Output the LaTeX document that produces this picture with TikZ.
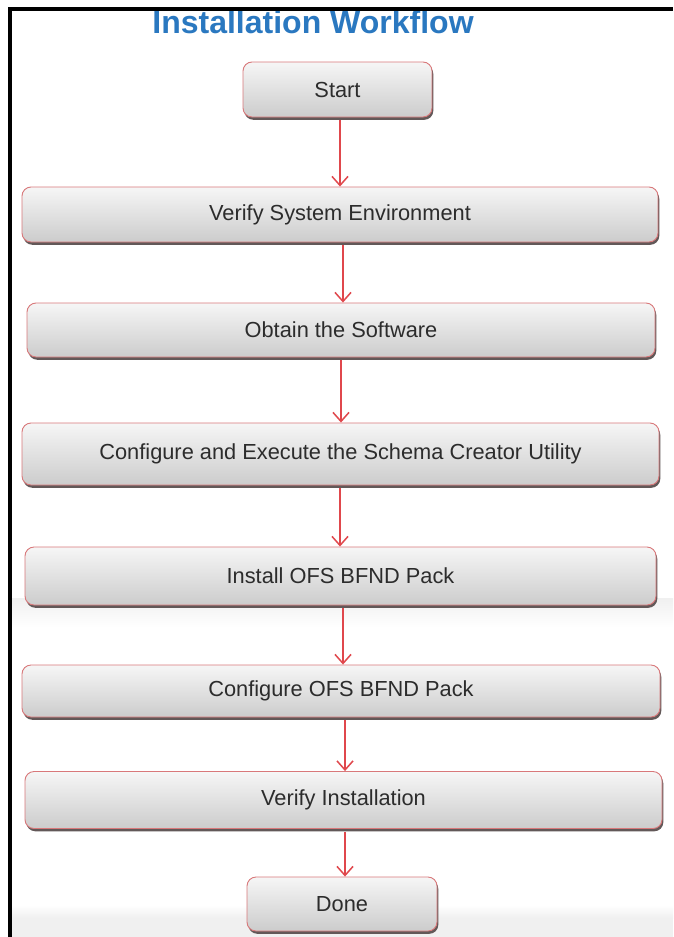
\documentclass[tikz,border=0pt]{standalone}
\usepackage{fontspec}
\setmainfont{Liberation Sans}
\usetikzlibrary{arrows.meta,shadows}
\definecolor{titleblue}{HTML}{2A78C0}
\definecolor{arrred}{HTML}{E0474C}
\definecolor{boxline}{HTML}{D8787A}
\definecolor{boxshadow}{HTML}{625858}
\definecolor{boxtop}{HTML}{F6F6F6}
\definecolor{boxbot}{HTML}{CCCCCC}
\definecolor{txt}{HTML}{2C2C2C}
\begin{document}
\begin{tikzpicture}[x=1pt,y=-1pt,
  flowbox/.style={draw=boxline, line width=0.9pt, rounded corners=9pt,
    top color=boxtop, bottom color=boxbot,
    drop shadow={shadow xshift=1.3pt, shadow yshift=-2.8pt, fill=boxshadow, opacity=1},
    inner sep=0pt, text=txt, font=\fontsize{21.8}{26}\selectfont},
  arr/.style={draw=arrred, line width=1.5pt,
    -{Straight Barb[length=9pt,width=16pt,line width=1.5pt]}},
  frameline/.style={draw=black, line width=3.2pt}]
\useasboundingbox (0,0) rectangle (673,937);
\fill[white] (0,0) rectangle (673,937);
% faint screenshot bands
\shade[top color=gray!12, bottom color=white] (11,598) rectangle (673,627);
\shade[top color=white, bottom color=gray!12] (11,905) rectangle (673,918);
\fill[gray!12] (11,918) rectangle (673,937);
% title
\node[anchor=base, text=titleblue, font=\fontsize{32}{37}\selectfont\bfseries] (title) at (313,33) {Installation Workflow};
% boxes
\node[flowbox, minimum width=189pt, minimum height=55pt] (start) at (337.5,89.5) {Start};
\node[flowbox, minimum width=636pt, minimum height=55pt] (env) at (340,214.5) {Verify System Environment};
\node[flowbox, minimum width=628pt, minimum height=54pt] (soft) at (341,330) {Obtain the Software};
\node[flowbox, minimum width=637pt, minimum height=62pt] (schema) at (340.5,454) {Configure and Execute the Schema Creator Utility};
\node[flowbox, minimum width=631pt, minimum height=58pt] (install) at (340.5,576) {Install OFS BFND Pack};
\node[flowbox, minimum width=638pt, minimum height=52pt] (config) at (341,691) {Configure OFS BFND Pack};
\node[flowbox, minimum width=637pt, minimum height=57pt] (verify) at (343.5,800) {Verify Installation};
\node[flowbox, minimum width=190pt, minimum height=54pt] (done) at (342,904) {Done};
% arrows
\draw[arr] ([xshift=2.5pt,yshift=-3pt]start.south) -- ([xshift=2.5pt]start.south |- env.north);
\draw[arr] ([xshift=3pt,yshift=-3pt]env.south) -- ([xshift=3pt]env.south |- soft.north);
\draw[arr] ([yshift=-3pt]soft.south) -- (soft.south |- schema.north);
\draw[arr] ([xshift=-0.5pt,yshift=-3pt]schema.south) -- ([xshift=-0.5pt]schema.south |- install.north);
\draw[arr] ([xshift=2.5pt,yshift=-3pt]install.south) -- ([xshift=2.5pt]install.south |- config.north);
\draw[arr] ([xshift=4pt,yshift=-3pt]config.south) -- ([xshift=4pt]config.south |- verify.north);
\draw[arr] ([xshift=1.5pt,yshift=-3pt]verify.south) -- ([xshift=1.5pt]verify.south |- done.north);
% frame
\draw[frameline] (8.4,9) -- (673,9);
\draw[frameline] (10,7.4) -- (10,937);
\end{tikzpicture}
\end{document}
